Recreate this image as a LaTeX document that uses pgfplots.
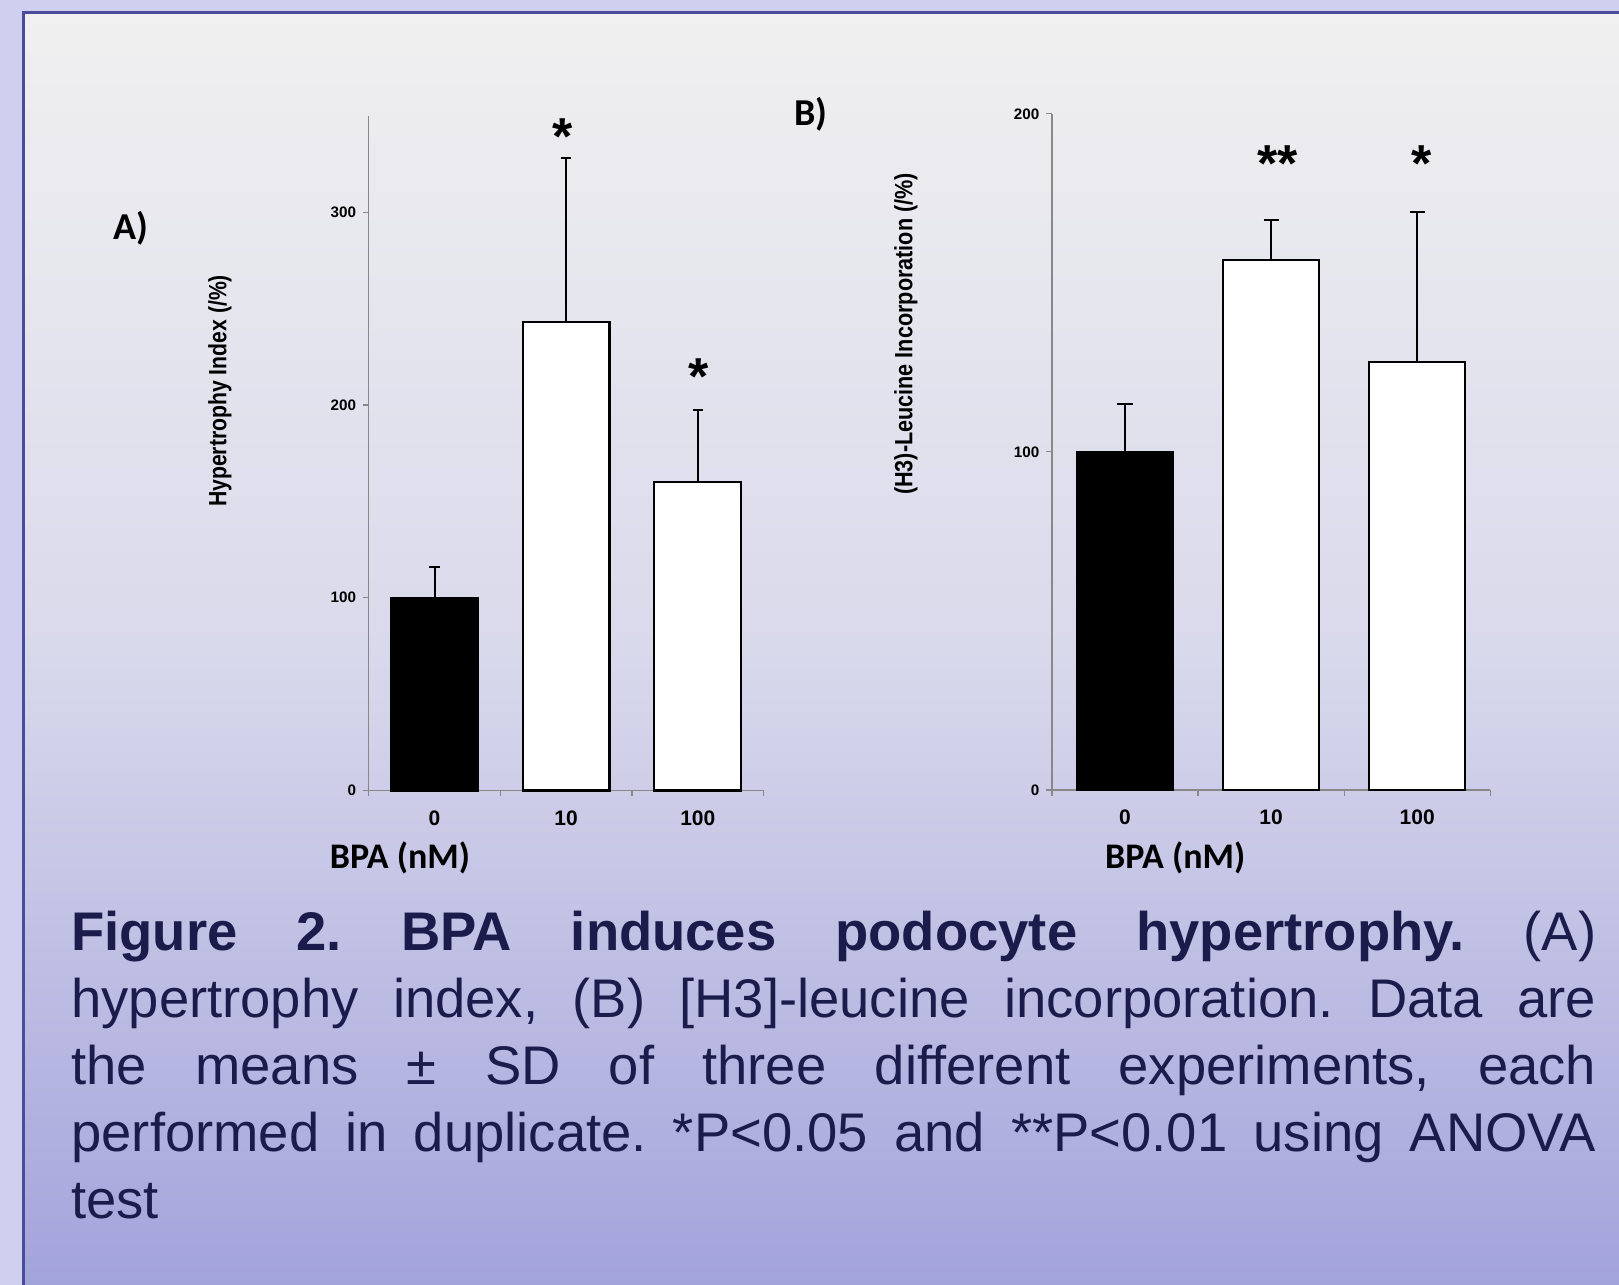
\documentclass[border=0pt]{standalone}
\usepackage{fontspec}
\setmainfont{Liberation Sans}
\newfontfamily\calib{Carlito}
\usepackage{graphicx}
\usepackage{pgfplots}
\pgfplotsset{compat=1.18}
\definecolor{outerbg}{HTML}{CFCFF0}
\definecolor{topbg}{HTML}{F0F0F0}
\definecolor{midbg}{HTML}{D9D9EC}
\definecolor{botbg}{HTML}{A3A3DC}
\definecolor{framec}{HTML}{4B4B9B}
\definecolor{captxt}{HTML}{1C1C4C}
\definecolor{axgray}{HTML}{888888}
\pgfplotsset{
  bpa/.style={
    scale only axis, anchor=south west,
    axis lines*=left,
    axis line style={draw=axgray, line width=0.75pt},
    xmin=-0.5, xmax=2.5,
    xtick={-0.5,0.5,1.5,2.5}, xticklabels={},
    extra x ticks={0,1,2}, extra x tick labels={0,10,100},
    extra x tick style={major tick length=0pt},
    tick align=outside, major tick length=2.8pt,
    tick style={draw=axgray, line width=0.6pt},
    xticklabel style={font=\fontsize{10.5}{10.5}\selectfont\bfseries, text=black, yshift=-6.5pt},
    yticklabel style={font=\fontsize{7.6}{7.6}\selectfont\bfseries, text=black},
    /pgf/number format/assume math mode=true,
    clip=false,
  },
  barblack/.style={ybar, bar shift=0pt, bar width=0.66, fill=black, draw=black, line width=1.1pt},
  barwhite/.style={ybar, bar shift=0pt, bar width=0.66, fill=white, draw=black, line width=1.1pt},
}
\newcommand{\stars}[1]{\fontsize{26}{26}\selectfont\bfseries #1}
\begin{document}
\begin{tikzpicture}
\fill[outerbg] (0,0) rectangle (809.5pt,642.5pt);
\shade[top color=topbg, bottom color=botbg, middle color=midbg] (11.65pt,0) rectangle (809.5pt,636.35pt);
\draw[framec, line width=1.5pt] (11.65pt,0) -- (11.65pt,636.35pt) -- (809.5pt,636.35pt);

% Panel A
\begin{axis}[bpa, at={(184.35pt,247.25pt)}, width=197.45pt, height=337.3pt,
  ymin=0, ymax=350, ytick={0,100,200,300}]
\addplot[barblack, error bars/.cd, y dir=plus, y explicit,
  error bar style={line width=1pt, black}, error mark options={rotate=90, line width=1pt, mark size=2.6pt, black}]
  coordinates {(0,100) +- (0,16)};
\addplot[barwhite, error bars/.cd, y dir=plus, y explicit,
  error bar style={line width=1pt, black}, error mark options={rotate=90, line width=1pt, mark size=2.6pt, black}]
  coordinates {(1,243) +- (0,85) (2,160) +- (0,37.6)};
\node[inner sep=0pt, yshift=-3pt] at (axis cs:0.975,342.5) {\stars{*}};
\node[inner sep=0pt, yshift=-2pt] at (axis cs:2.005,216.6) {\stars{*}};
\end{axis}

% Panel B
\begin{axis}[bpa, at={(526pt,247.5pt)}, width=219.1pt, height=338.1pt,
  ymin=0, ymax=200, ytick={0,100,200}]
\addplot[barblack, error bars/.cd, y dir=plus, y explicit,
  error bar style={line width=1pt, black}, error mark options={rotate=90, line width=1pt, mark size=3.8pt, black}]
  coordinates {(0,100) +- (0,14.2)};
\addplot[barwhite, error bars/.cd, y dir=plus, y explicit,
  error bar style={line width=1pt, black}, error mark options={rotate=90, line width=1pt, mark size=3.8pt, black}]
  coordinates {(1,156.7) +- (0,11.9) (2,126.6) +- (0,44.4)};
\node[inner sep=0pt, yshift=-3pt] at (axis cs:1.045,186.9) {\stars{**}};
\node[inner sep=0pt, yshift=-3pt] at (axis cs:2.03,186.9) {\stars{*}};
\end{axis}

% labels
\node[rotate=90, inner sep=0pt] at (110pt,447pt) {\resizebox{116pt}{\height}{\fontsize{12.5}{12.5}\selectfont\bfseries Hypertrophy Index (/\%)}};
\node[rotate=90, inner sep=0pt] at (453pt,475.5pt) {\resizebox{161pt}{\height}{\fontsize{12.5}{12.5}\selectfont\bfseries (H3)-Leucine Incorporation (/\%)}};
\node[anchor=base, inner sep=0pt] at (200pt,208.3pt) {\calib\fontsize{18}{18}\selectfont\bfseries BPA (nM)};
\node[anchor=base, inner sep=0pt] at (587.6pt,208.3pt) {\calib\fontsize{18}{18}\selectfont\bfseries BPA (nM)};
\node[anchor=base, inner sep=0pt] at (65.5pt,522.5pt) {\calib\fontsize{19}{19}\selectfont\bfseries A)};
\node[anchor=base, inner sep=0pt] at (405.3pt,579.8pt) {\calib\fontsize{19}{19}\selectfont\bfseries B)};

% caption
\node[anchor=north west, inner sep=0pt, text width=762.5pt, align=justify, text=captxt,
  font=\fontsize{27.2}{33.5}\selectfont] at (35.5pt,187.4pt)
  {\frenchspacing\hyphenpenalty=10000\relax
   \textbf{Figure 2. BPA induces podocyte hypertrophy.} (A)\linebreak
   hypertrophy index, (B) [H3]-leucine incorporation. Data are\linebreak
   the means ± SD of three different experiments, each\linebreak
   performed in duplicate. *P<0.05 and **P<0.01 using ANOVA\linebreak
   test};

\pgfresetboundingbox
\useasboundingbox (0,0) rectangle (809.5pt,642.5pt);
\end{tikzpicture}
\end{document}
